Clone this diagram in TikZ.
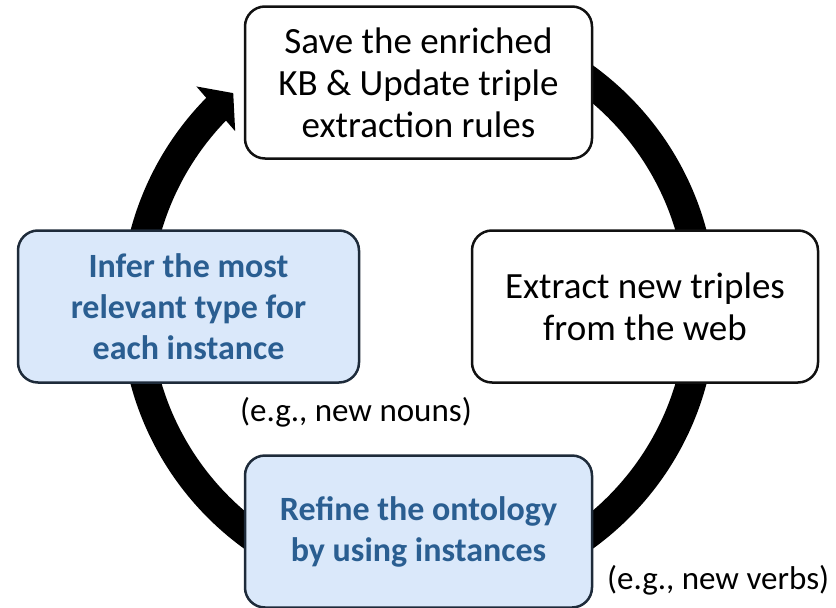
\documentclass[tikz,border=0pt]{standalone}
\usepackage{fontspec}
\setmainfont{Carlito}
\usetikzlibrary{calc}
\definecolor{bluefill}{HTML}{DAE8FA}
\definecolor{bluetext}{HTML}{2A5E91}
\definecolor{blueborder}{HTML}{1E2B3A}
\definecolor{boxborder}{HTML}{111111}
\begin{document}
\begin{tikzpicture}[x=1pt,y=-1pt,
  box/.style={draw=boxborder, line width=2.5pt, rounded corners=20pt, fill=white,
    minimum width=347pt, minimum height=152pt, align=center, inner sep=0pt,
    font=\fontsize{37}{42}\selectfont},
  bluebox/.style={box, draw=blueborder, fill=bluefill, text=bluetext,
    font=\fontsize{34}{41}\selectfont\bfseries},
  note/.style={font=\fontsize{33}{40}\selectfont, inner sep=0pt, anchor=west},
  ring/.style={line width=30pt, draw=black}]
\useasboundingbox (0,0) rectangle (836,608);
\coordinate (c) at (418.5,307);
% circular arrow
\draw[ring] (c) ++(-90:283) arc[start angle=-90, end angle=225, radius=283];
\fill[black] ($(c)+(224.8:313)$) -- ($(c)+(229.1:283)$) -- ($(c)+(223.8:254)$) -- cycle;
% boxes
\node[box] (save) at (418.5,82.5) {Save the enriched\\KB \& Update triple\\extraction rules};
\node[box, minimum width=346pt] (extract) at (645,306.5) {Extract new triples\\from the web};
\node[bluebox] (refine) at (418.5,531.5) {Refine the ontology\\by using instances};
\node[bluebox, minimum width=341pt] (infer) at (188.5,306.5) {Infer the most\\relevant type for\\each instance};
% notes
\node[note] (nouns) at (240,412) {(e.g., new nouns)};
\node[note] (verbs) at (607,580) {(e.g., new verbs)};
\end{tikzpicture}
\end{document}
